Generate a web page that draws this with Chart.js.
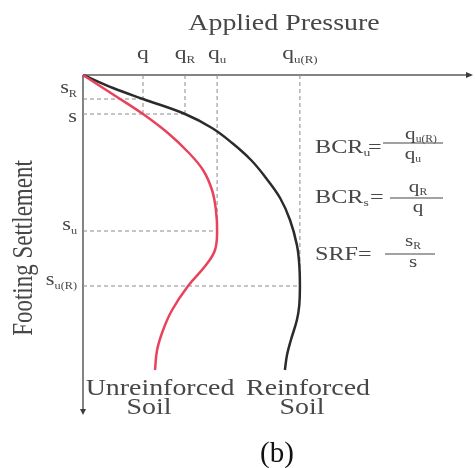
<!DOCTYPE html>
<html>
<head>
<meta charset="utf-8">
<script src="https://cdn.jsdelivr.net/npm/chart.js@4/dist/chart.umd.min.js"></script>
<style>
  html, body { margin: 0; padding: 0; background: #fff; }
  #wrap { width: 475px; height: 468px; }
</style>
</head>
<body>
<div id="wrap"><canvas id="c" width="475" height="468"></canvas></div>
<script>
// Characteristic pressures (top axis) and settlements (left axis), arbitrary units
const pressureSymbols = [['q', ''], ['q', 'R'], ['q', 'u'], ['q', 'u(R)']];
const pressureValues = [20, 34, 44.7, 72.3];
const settlementSymbols = [['s', 'R'], ['s', ''], ['s', 'u'], ['s', 'u(R)']];
const settlementValues = [12, 19.5, 78, 105.5];

// Which settlement each vertical guide drops to, and which pressure each horizontal guide runs to
const verticalGuideTo = [1, 1, 2, 3];
const horizontalGuideTo = [0, 1, 2, 3];

// Load–settlement curves: pressure vs settlement
const unreinforcedPressure   = [0, 10.3, 20, 28.3, 35, 40, 43, 44.3, 44.7, 44, 41, 35, 29.7, 26.7, 24.7, 24];
const unreinforcedSettlement = [0, 10, 19.5, 29, 38.5, 47.5, 57.5, 67.5, 78, 87.5, 95, 105.5, 117.5, 127.5, 137.5, 147.5];
const reinforcedPressure   = [0, 10, 20, 34, 43, 49.7, 56, 61, 65.7, 69, 71.3, 72.1, 72.3, 72.1, 71.3, 69.3, 68, 67.3];
const reinforcedSettlement = [0, 6.5, 12, 19.5, 26.5, 34, 42.5, 51.5, 61.5, 72.5, 85, 95, 105.5, 115, 122.5, 132.5, 140, 147.5];

const pairs = (xs, ys) => xs.map((x, i) => ({ x, y: ys[i] }));

const FONT = '"Liberation Serif", "Times New Roman", serif';
const INK = '#474747';
const SX = 1.24; // text is drawn slightly wide

// Draw a run of text pieces [text, size, dy] starting/centred/ending at x
function runs(ctx, parts, x, y, align, color) {
  let w = 0;
  parts.forEach(p => { ctx.font = p[1] + 'px ' + FONT; w += ctx.measureText(p[0]).width * SX; });
  let cx = align === 'center' ? x - w / 2 : align === 'right' ? x - w : x;
  ctx.fillStyle = color || INK;
  ctx.textAlign = 'left';
  ctx.textBaseline = 'alphabetic';
  parts.forEach(p => {
    ctx.font = p[1] + 'px ' + FONT;
    const pw = ctx.measureText(p[0]).width * SX;
    ctx.save();
    ctx.translate(cx, y + (p[2] || 0));
    ctx.scale(SX, 1);
    ctx.fillText(p[0], 0, 0);
    ctx.restore();
    cx += pw;
  });
  return w;
}
const sym = (base, sub, size) => sub ? [[base, size, 0], [sub, size * 0.55, size * 0.2]] : [[base, size, 0]];

function bar(ctx, x1, x2, y) {
  ctx.save();
  ctx.strokeStyle = INK;
  ctx.lineWidth = 1.2;
  ctx.beginPath();
  ctx.moveTo(x1, y);
  ctx.lineTo(x2, y);
  ctx.stroke();
  ctx.restore();
}

const axesPlugin = {
  id: 'axesAndLabels',
  beforeDatasetsDraw(chart) {
    const { ctx, chartArea: a } = chart;
    ctx.save();
    ctx.strokeStyle = '#5c5c5c';
    ctx.fillStyle = '#3c3c3c';
    ctx.lineWidth = 1.5;
    ctx.beginPath();
    ctx.moveTo(a.left, a.top);
    ctx.lineTo(a.right - 4, a.top);
    ctx.moveTo(a.left, a.top);
    ctx.lineTo(a.left, a.bottom - 4);
    ctx.stroke();
    // arrow heads
    ctx.beginPath();
    ctx.moveTo(a.right, a.top);
    ctx.lineTo(a.right - 7, a.top - 3);
    ctx.lineTo(a.right - 7, a.top + 3);
    ctx.closePath();
    ctx.fill();
    ctx.beginPath();
    ctx.moveTo(a.left, a.bottom);
    ctx.lineTo(a.left - 3, a.bottom - 6);
    ctx.lineTo(a.left + 3, a.bottom - 6);
    ctx.closePath();
    ctx.fill();
    ctx.restore();
  },
  afterDraw(chart) {
    const { ctx, scales: { x: xs, y: ys }, chartArea: a } = chart;
    ctx.save();

    // axis titles
    runs(ctx, [['Applied Pressure', 22.5]], 284, 30, 'center');
    ctx.save();
    ctx.translate(32, 248);
    ctx.rotate(-Math.PI / 2);
    ctx.scale(1, SX);
    ctx.font = '23px ' + FONT;
    ctx.fillStyle = INK;
    ctx.textAlign = 'center';
    ctx.textBaseline = 'alphabetic';
    ctx.fillText('Footing Settlement', 0, 0);
    ctx.restore();

    // pressure symbols above the top axis
    pressureSymbols.forEach((s, i) => {
      runs(ctx, sym(s[0], s[1], 19), xs.getPixelForValue(pressureValues[i]), a.top - 16, 'center');
    });

    // settlement symbols left of the vertical axis
    const labelDy = [-6, 8, -1, -1];
    settlementSymbols.forEach((s, i) => {
      runs(ctx, sym(s[0], s[1], 18), a.left - 6, ys.getPixelForValue(settlementValues[i]) + labelDy[i], 'right');
    });

    // ratio definitions
    runs(ctx, [['BCR', 19.5], ['u', 11, 3]], 315, 153, 'left');
    runs(ctx, [['=', 19.5]], 368, 153, 'left');
    bar(ctx, 383, 443, 143);
    runs(ctx, sym('q', 'u(R)', 17), 421, 139, 'center');
    runs(ctx, sym('q', 'u', 17), 413, 159, 'center');

    runs(ctx, [['BCR', 19.5], ['s', 11, 3]], 315, 203, 'left');
    runs(ctx, [['=', 19.5]], 370, 203, 'left');
    bar(ctx, 390, 443, 198);
    runs(ctx, sym('q', 'R', 17), 418, 192, 'center');
    runs(ctx, sym('q', '', 17), 418, 212, 'center');

    runs(ctx, [['SRF', 19.5]], 315, 260, 'left');
    runs(ctx, [['=', 19.5]], 358, 260, 'left');
    bar(ctx, 385, 435, 254);
    runs(ctx, sym('s', 'R', 17), 413, 246, 'center');
    runs(ctx, sym('s', '', 17), 413, 267, 'center');

    // curve names
    runs(ctx, [['Unreinforced', 22.5]], 160, 395, 'center');
    runs(ctx, [['Soil', 22.5]], 149, 414, 'center');
    runs(ctx, [['Reinforced', 22.5]], 308, 395, 'center');
    runs(ctx, [['Soil', 22.5]], 302, 414, 'center');

    // panel tag
    ctx.font = '29px ' + FONT;
    ctx.fillStyle = '#111';
    ctx.textAlign = 'center';
    ctx.textBaseline = 'alphabetic';
    ctx.fillText('(b)', 277, 462);

    ctx.restore();
  }
};

const guide = {
  borderColor: '#8a8a8a', borderWidth: 1, borderDash: [4, 3],
  pointRadius: 0, tension: 0, fill: false, clip: false
};
const guides = [];
pressureValues.forEach((p, i) => {
  guides.push(Object.assign({ data: [{ x: p, y: 0 }, { x: p, y: settlementValues[verticalGuideTo[i]] }] }, guide));
});
settlementValues.forEach((s, i) => {
  guides.push(Object.assign({ data: [{ x: 0, y: s }, { x: pressureValues[horizontalGuideTo[i]], y: s }] }, guide));
});

new Chart(document.getElementById('c'), {
  type: 'line',
  data: {
    datasets: [
      {
        label: 'Unreinforced Soil',
        data: pairs(unreinforcedPressure, unreinforcedSettlement),
        borderColor: '#e8425c', borderWidth: 2.5, pointRadius: 0,
        tension: 0.4, fill: false, clip: false
      },
      {
        label: 'Reinforced Soil',
        data: pairs(reinforcedPressure, reinforcedSettlement),
        borderColor: '#2b2b2b', borderWidth: 2.5, pointRadius: 0,
        tension: 0.4, fill: false, clip: false
      },
      ...guides
    ]
  },
  options: {
    indexAxis: 'y',
    responsive: false,
    animation: false,
    events: [],
    layout: { padding: { left: 83, top: 75, right: 2, bottom: 53 } },
    plugins: { legend: { display: false }, tooltip: { enabled: false } },
    scales: {
      x: { type: 'linear', min: 0, max: 130, display: false },
      y: { type: 'linear', min: 0, max: 170, reverse: true, display: false }
    }
  },
  plugins: [axesPlugin]
});
</script>
</body>
</html>
